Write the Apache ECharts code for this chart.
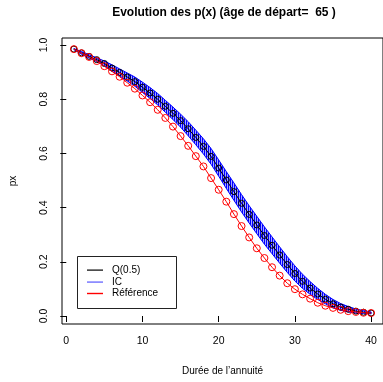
<!DOCTYPE html>
<html><head><meta charset="utf-8">
<script src="https://cdn.jsdelivr.net/npm/echarts@6/dist/echarts.min.js"></script>
<style>html,body{margin:0;padding:0;background:#fff}#c{width:383px;height:382px}</style>
</head><body><div id="c"></div>
<script>
const years = [1,2,3,4,5,6,7,8,9,10,11,12,13,14,15,16,17,18,19,20,21,22,23,24,25,26,27,28,29,30,31,32,33,34,35,36,37,38,39,40];
const q50 = [0.985,0.971,0.958,0.946,0.932,0.915,0.899,0.882,0.865,0.844,0.823,0.800,0.774,0.748,0.721,0.691,0.659,0.626,0.589,0.546,0.502,0.459,0.416,0.375,0.336,0.297,0.261,0.225,0.190,0.157,0.128,0.103,0.081,0.062,0.045,0.033,0.025,0.018,0.014,0.011];
const icHigh = [0.987,0.976,0.964,0.953,0.941,0.927,0.912,0.897,0.882,0.863,0.843,0.821,0.796,0.771,0.745,0.717,0.686,0.654,0.618,0.576,0.533,0.491,0.448,0.407,0.368,0.329,0.292,0.255,0.219,0.185,0.154,0.127,0.102,0.080,0.061,0.046,0.035,0.026,0.020,0.015];
const icLow = [0.983,0.966,0.952,0.939,0.923,0.903,0.886,0.867,0.848,0.825,0.803,0.779,0.752,0.725,0.697,0.665,0.632,0.598,0.560,0.516,0.471,0.427,0.384,0.343,0.304,0.265,0.230,0.195,0.161,0.129,0.102,0.080,0.061,0.045,0.030,0.021,0.015,0.011,0.009,0.008];
const reference = [0.985,0.970,0.956,0.941,0.922,0.903,0.883,0.861,0.839,0.814,0.789,0.761,0.731,0.699,0.664,0.628,0.590,0.552,0.509,0.466,0.422,0.376,0.332,0.290,0.250,0.214,0.180,0.149,0.121,0.099,0.080,0.064,0.049,0.038,0.030,0.023,0.018,0.015,0.012,0.011];
const xTicks = [0,10,20,30,40];
const yTicks = [0,0.2,0.4,0.6,0.8,1.0];

const pc = document.createElement('canvas');
pc.width = 2; pc.height = 2;
const pctx = pc.getContext('2d');
pctx.fillStyle = '#a8a8ff'; pctx.fillRect(0,0,2,2);
pctx.fillStyle = '#0000ff'; pctx.fillRect(0,0,1,2);

const FONT = '"Liberation Sans", Arial, sans-serif';
const chart = echarts.init(document.getElementById('c'), null, {renderer:'canvas'});
const pair = arr => years.map((t,i)=>[t,arr[i]]);
chart.setOption({
  animation:false,
  backgroundColor:'#fff',
  grid:{left:60.5, top:38, right:-4.8, bottom:58, show:true, borderColor:'#000', borderWidth:1, backgroundColor:'transparent'},
  xAxis:{type:'value', min:-0.56, max:41.56,
    name:'Durée de l\u2019annuité', nameLocation:'middle', nameGap:42,
    nameTextStyle:{fontFamily:FONT, fontSize:10, color:'#000'},
    axisLine:{show:false}, splitLine:{show:false},
    axisTick:{show:true, length:6, inside:false, customValues:xTicks, lineStyle:{color:'#000'}},
    axisLabel:{customValues:xTicks, margin:12, fontFamily:FONT, fontSize:10.5, color:'#000'}},
  yAxis:{type:'value', min:-0.0295, max:1.026,
    name:'px', nameLocation:'middle', nameGap:44, nameRotate:90,
    nameTextStyle:{fontFamily:FONT, fontSize:10, color:'#000'},
    axisLine:{show:false}, splitLine:{show:false},
    axisTick:{show:true, length:6, customValues:yTicks, lineStyle:{color:'#000'}},
    axisLabel:{customValues:yTicks, rotate:90, margin:12, fontFamily:FONT, fontSize:10.5, color:'#000',
      formatter:v=>v.toFixed(1)}},
  series:[
    {type:'custom', name:'IC', data:[0], z:1, clip:true,
      renderItem:function(params, api){
        const pts = [];
        for (let i=0;i<years.length;i++) pts.push(api.coord([years[i], icHigh[i]]));
        for (let i=years.length-1;i>=0;i--) pts.push(api.coord([years[i], icLow[i]]));
        return {type:'polygon', shape:{points:pts},
          style:{fill:{image:pc, repeat:'repeat'}, stroke:'#0000ff', lineWidth:1}};
      }},
    {type:'line', name:'Q(0.5)', data:pair(q50), symbol:'circle', symbolSize:6, z:2,
      lineStyle:{color:'#000', width:1}, itemStyle:{color:'rgba(0,0,0,0)', borderColor:'#000', borderWidth:1}},
    {type:'line', name:'Référence', data:pair(reference), symbol:'circle', symbolSize:7, z:3,
      lineStyle:{color:'#ff0000', width:1}, itemStyle:{color:'rgba(0,0,0,0)', borderColor:'#ff0000', borderWidth:1}}
  ],
  graphic:[
    {type:'text', x:224, y:7, style:{text:'Evolution des p(x) (âge de départ=  65 )', font:'bold 12px '+FONT, fill:'#000', textAlign:'center', textVerticalAlign:'top'}},
    {type:'group', z:10, children:[
      {type:'rect', shape:{x:77.5, y:256.5, width:99, height:52}, style:{fill:'#fff', stroke:'#222', lineWidth:1}, z2:0},
      {type:'rect', shape:{x:87, y:269.5, width:16, height:1.2}, style:{fill:'#000000'}, z2:1},
      {type:'rect', shape:{x:87, y:281.3, width:16, height:1.6}, style:{fill:'#8080ff'}, z2:1},
      {type:'rect', shape:{x:87, y:292.8, width:16, height:1.4}, style:{fill:'#ff0000'}, z2:1},
      {type:'text', x:112, y:270, style:{text:'Q(0.5)', font:'10px '+FONT, fill:'#000', textVerticalAlign:'middle'}, z2:1},
      {type:'text', x:112, y:282, style:{text:'IC', font:'10px '+FONT, fill:'#000', textVerticalAlign:'middle'}, z2:1},
      {type:'text', x:112, y:293.5, style:{text:'Référence', font:'10px '+FONT, fill:'#000', textVerticalAlign:'middle'}, z2:1}
    ]}
  ]
});
</script></body></html>
